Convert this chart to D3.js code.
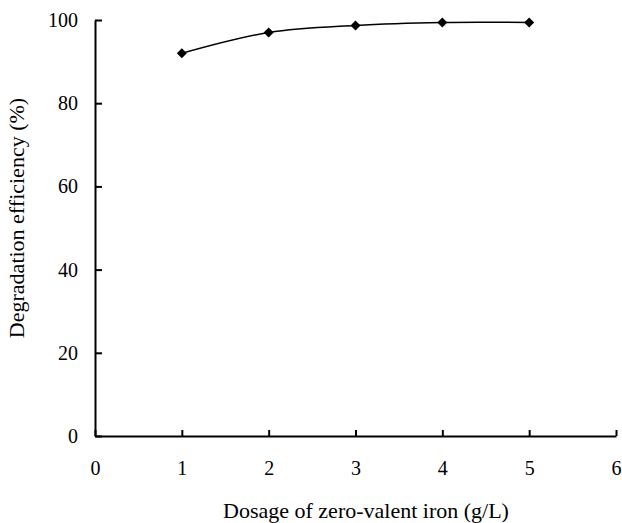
<!DOCTYPE html>
<html><head><meta charset="utf-8">
<script src="https://cdn.jsdelivr.net/npm/d3@7"></script>
<style>body{margin:0;background:#fff}</style>
</head><body><svg id="c" width="622" height="523"></svg>
<script>
const dosage = [1, 2, 3, 4, 5];
const efficiency = [92.0, 97.0, 98.7, 99.4, 99.4];
const xTicks = [0, 1, 2, 3, 4, 5, 6];
const yTicks = [0, 20, 40, 60, 80, 100];
const xTitle = "Dosage of zero-valent iron (g/L)";
const yTitle = "Degradation efficiency (%)";

const FONT = "'Liberation Serif', 'Times New Roman', serif";
const svg = d3.select("#c");
const x = d3.scaleLinear().domain([0, 6]).range([95, 616]);
const y = d3.scaleLinear().domain([0, 100]).range([436, 20]);

const xAxis = svg.append("g").attr("transform", "translate(0,436)")
  .call(d3.axisBottom(x).tickValues(xTicks).tickFormat(d3.format("d")).tickSizeInner(-6).tickSizeOuter(0).tickPadding(25));
const yAxis = svg.append("g").attr("transform", "translate(95,0)")
  .call(d3.axisLeft(y).tickValues(yTicks).tickFormat(d3.format("d")).tickSizeInner(-7).tickSizeOuter(0).tickPadding(17));
[xAxis, yAxis].forEach(g => {
  g.attr("font-family", null).attr("font-size", null);
  g.select(".domain").attr("stroke", "#000").attr("stroke-width", 2);
  g.selectAll(".tick line").attr("stroke", "#000").attr("stroke-width", 2);
  g.selectAll(".tick text").style("font-family", FONT).style("font-size", "20px").attr("fill", "#000");
});

const data = dosage.map((d, i) => ({ x: d, y: efficiency[i] }));
svg.append("path").datum(data)
  .attr("fill", "none").attr("stroke", "#000").attr("stroke-width", 1.5)
  .attr("d", d3.line().x(d => x(d.x)).y(d => y(d.y)).curve(d3.curveCatmullRom.alpha(0.5)));
svg.selectAll(".pt").data(data).enter().append("path")
  .attr("transform", d => `translate(${x(d.x)},${y(d.y)})`)
  .attr("d", d3.symbol(d3.symbolDiamond2, 64))
  .attr("fill", "#000");

svg.append("text").attr("x", 366).attr("y", 518).attr("text-anchor", "middle")
  .style("font-family", FONT).style("font-size", "22px").text(xTitle);
svg.append("text").attr("transform", "translate(24,218) rotate(-90)").attr("text-anchor", "middle")
  .style("font-family", FONT).style("font-size", "22px").text(yTitle);
</script></body></html>
